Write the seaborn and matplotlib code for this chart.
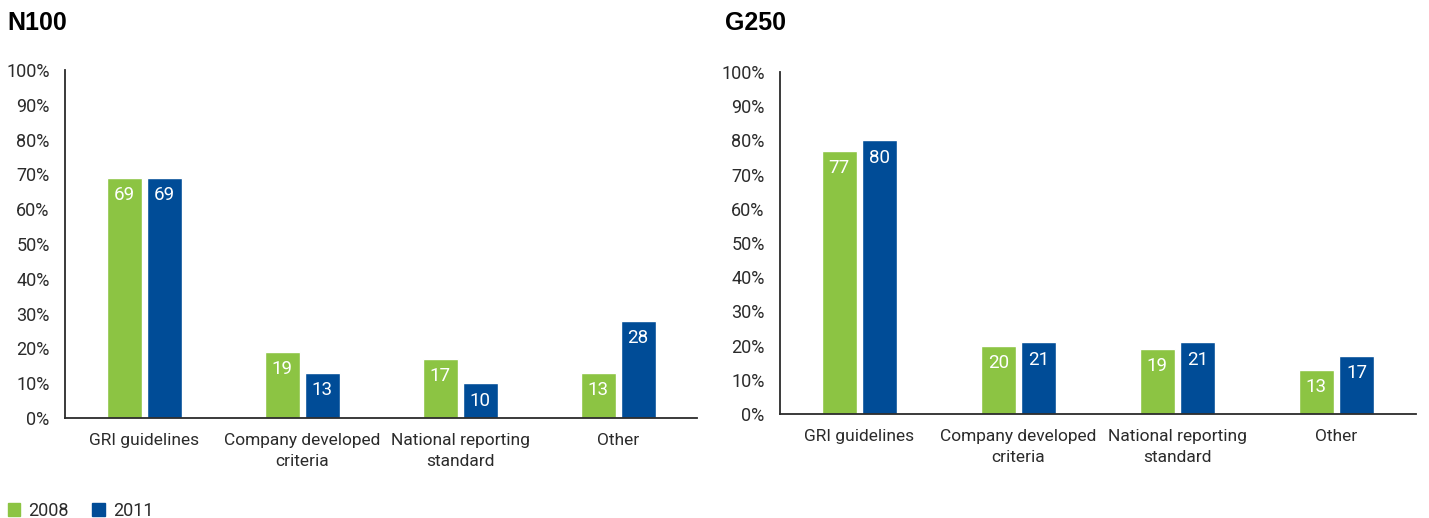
import pandas as pd
import matplotlib.pyplot as plt
import matplotlib.patches as mpatches
import seaborn as sns

categories = ["GRI guidelines", "Company developed\ncriteria", "National reporting\nstandard", "Other"]
years = ["2008", "2011"]
n100_2008 = [69, 19, 17, 13]
n100_2011 = [69, 13, 10, 28]
g250_2008 = [77, 20, 19, 13]
g250_2011 = [80, 21, 21, 17]

colors = {"2008": "#8cc443", "2011": "#004c97"}
text_color = "#2b2b2b"


def make_frame(v2008, v2011):
    rows = []
    for cat, a, b in zip(categories, v2008, v2011):
        rows.append({"category": cat, "year": "2008", "value": a})
        rows.append({"category": cat, "year": "2011", "value": b})
    return pd.DataFrame(rows)


def draw_panel(ax, df):
    sns.barplot(data=df, x="category", y="value", hue="year", hue_order=years,
                palette=colors, width=0.506, gap=0.125, saturation=1,
                legend=False, ax=ax)
    for container in ax.containers:
        for bar in container:
            h = bar.get_height()
            ax.annotate(f"{h:.0f}", (bar.get_x() + bar.get_width() / 2, h),
                        xytext=(0, -6), textcoords="offset points",
                        ha="center", va="top", color="white", fontsize=13.5)
    ax.set_xlim(-0.5, 3.5)
    ax.set_ylim(0, 100)
    ax.set_yticks(range(0, 101, 10))
    ax.set_yticklabels([f"{v}%" for v in range(0, 101, 10)])
    ax.set_xticks([-0.5, 0.5, 1.5, 2.5, 3.5])
    ax.set_xticklabels([])
    ax.set_xticks(range(4), minor=True)
    ax.set_xticklabels(categories, minor=True, linespacing=1.5)
    ax.tick_params(axis="x", which="minor", length=0, pad=11, labelsize=12.5, colors=text_color)
    ax.tick_params(axis="x", which="major", length=8, width=1.3, color=text_color)
    ax.tick_params(axis="y", length=7, width=1.3, pad=4, labelsize=13,
                   color=text_color, labelcolor=text_color)
    ax.set_xlabel("")
    ax.set_ylabel("")
    for side in ["top", "right"]:
        ax.spines[side].set_visible(False)
    for side in ["left", "bottom"]:
        ax.spines[side].set_linewidth(1.3)
        ax.spines[side].set_color(text_color)
    ax.grid(False)


sns.set_theme(style="white")
plt.rcParams["font.family"] = ["Roboto", "DejaVu Sans"]

fig = plt.figure(figsize=(14.29, 5.18), dpi=100)
ax1 = fig.add_axes([0.0455, 0.193, 0.4423, 0.672])
ax2 = fig.add_axes([0.5458, 0.2008, 0.4451, 0.6602])

draw_panel(ax1, make_frame(n100_2008, n100_2011))
draw_panel(ax2, make_frame(g250_2008, g250_2011))

fig.text(0.005, 0.955, "N100", fontsize=18, fontweight="bold", color="black",
         family=["Liberation Sans", "DejaVu Sans"], va="center")
fig.text(0.507, 0.955, "G250", fontsize=18, fontweight="bold", color="black",
         family=["Liberation Sans", "DejaVu Sans"], va="center")

handles = [mpatches.Patch(color=colors[y], label=y) for y in years]
fig.legend(handles=handles, loc="lower left", bbox_to_anchor=(-0.006, -0.035), ncol=2,
           frameon=False, fontsize=13, handlelength=0.7, handleheight=0.7,
           handletextpad=0.45, columnspacing=1.3, labelcolor=text_color)

fig.savefig("out.png", dpi=100)
